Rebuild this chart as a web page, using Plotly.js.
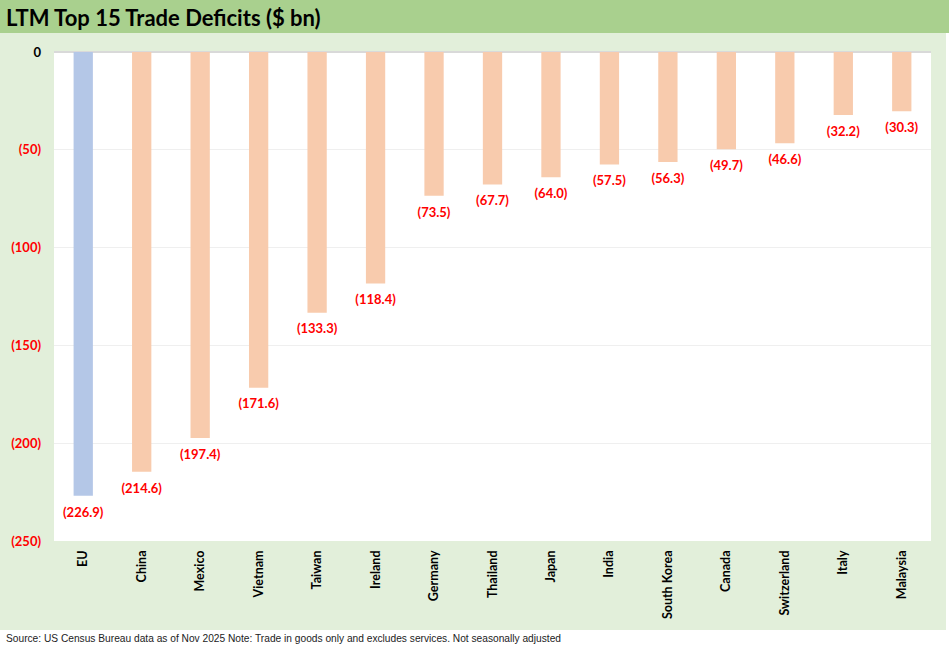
<!DOCTYPE html>
<html><head><meta charset="utf-8">
<script src="https://cdn.plot.ly/plotly-3.0.1.min.js"></script>
<style>html,body{margin:0;padding:0;}#chart{width:949px;height:647px;}</style>
</head><body><div id="chart"></div>
<script>
const categories = ["EU","China","Mexico","Vietnam","Taiwan","Ireland","Germany","Thailand","Japan","India","South Korea","Canada","Switzerland","Italy","Malaysia"];
const deficits = [-226.9,-214.6,-197.4,-171.6,-133.3,-118.4,-73.5,-67.7,-64.0,-57.5,-56.3,-49.7,-46.6,-32.2,-30.3];
const tickValues = [0,-50,-100,-150,-200,-250];
const tickLabels = ["0","(50)","(100)","(150)","(200)","(250)"];
const titleText = "LTM Top 15 Trade Deficits ($ bn)";
const sourceText = "Source: US Census Bureau data as of Nov 2025 Note: Trade in goods only and excludes services. Not seasonally adjusted";

const barColors = categories.map((c,i)=> i===0 ? "#b4c7e7" : "#f8cbad");
const barText = deficits.map(v => "<b>(" + Math.abs(v).toFixed(1) + ")</b>");
const tickText = tickLabels.map((t,i)=> i===0 ? "<b>"+t+"</b>" : '<b><span style="color:#ff0000">'+t+'</span></b>');
const catText = categories.map(c => "<b>"+c+"</b>");

const W=949,H=647,L=54,R=18,T=52,B=106;
const pw=W-L-R, ph=H-T-B;
const px = x => (x-L)/pw;
const py = y => (H-B-y)/ph;

const bars = {
  type:"bar", x:categories, y:deficits,
  marker:{color:barColors},
  width:0.33,
  hoverinfo:"skip"
};
const labels = {
  type:"scatter", mode:"markers+text", x:categories, y:deficits,
  marker:{size:16, opacity:0},
  text:barText, textposition:"bottom center", cliponaxis:false,
  textfont:{family:"Lato, 'Open Sans', sans-serif", size:13, color:"#ff0000"},
  hoverinfo:"skip"
};

const layout = {
  width:W, height:H,
  margin:{l:L,r:R,t:T,b:B},
  paper_bgcolor:"#e2efda",
  plot_bgcolor:"#ffffff",
  showlegend:false,
  font:{family:"Lato, 'Open Sans', sans-serif", color:"#000"},
  xaxis:{
    range:[-0.5, categories.length-0.5],
    tickmode:"array", tickvals:categories, ticktext:catText,
    tickangle:-90, tickfont:{size:12.5, color:"#000"},
    showgrid:false, showline:false, ticks:"", ticklabelstandoff:6, fixedrange:true
  },
  yaxis:{
    range:[-250,0], tickmode:"array", tickvals:tickValues, ticktext:tickText,
    tickfont:{size:13, color:"#000"},
    showgrid:true, gridcolor:"#efefef", gridwidth:1,
    zeroline:true, zerolinecolor:"#d9d9d9", zerolinewidth:2,
    showline:false, ticks:"", ticklabelstandoff:12, fixedrange:true
  },
  shapes:[
    {type:"rect", xref:"paper", yref:"paper", x0:px(0), x1:px(W), y0:py(33), y1:py(0),
     fillcolor:"#a9d08e", line:{width:0}, layer:"below"},
    {type:"rect", xref:"paper", yref:"paper", x0:px(0), x1:px(W), y0:py(H), y1:py(630),
     fillcolor:"#ffffff", line:{width:0}, layer:"below"},
    {type:"rect", xref:"paper", yref:"paper", x0:px(946), x1:px(W), y0:py(630), y1:py(33),
     fillcolor:"#ffffff", line:{width:0}, layer:"below"}
  ],
  annotations:[
    {text:"<b>"+titleText+"</b>", xref:"paper", yref:"paper", x:px(4), y:py(17),
     xanchor:"left", yanchor:"middle", showarrow:false,
     font:{family:"Lato, 'Open Sans', sans-serif", size:22, color:"#000"}},
    {text:sourceText, xref:"paper", yref:"paper", x:px(4), y:py(638),
     xanchor:"left", yanchor:"middle", showarrow:false,
     font:{family:"'Liberation Sans', Arial, sans-serif", size:10.2, color:"#222"}}
  ]
};

Plotly.newPlot("chart",[bars,labels],layout,{displayModeBar:false,staticPlot:true});
</script></body></html>
